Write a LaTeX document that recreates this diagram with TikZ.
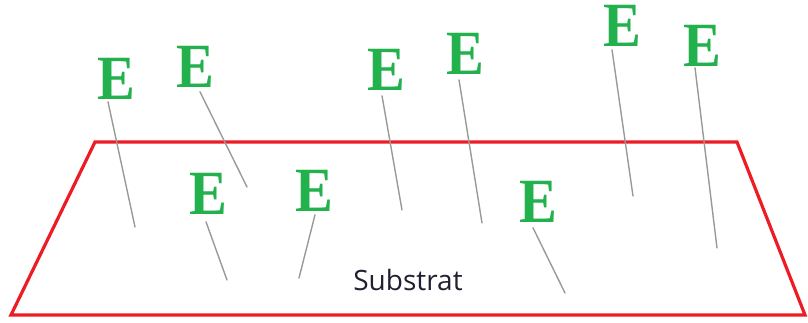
\documentclass[tikz,border=0pt]{standalone}
\usepackage{fontspec}
\setmainfont{Liberation Serif}
\newfontfamily\labelfont{Open Sans}
\definecolor{egreen}{HTML}{22B14C}
\definecolor{substred}{HTML}{ED1C24}
\definecolor{wiregray}{HTML}{999999}
\definecolor{labelink}{HTML}{202030}
\tikzset{
  elabel/.style={inner sep=0pt, text=egreen,
    font=\fontsize{63}{63}\selectfont\bfseries},
  wire/.style={draw=wiregray, line width=1.4pt, line cap=round},
  substrate/.style={draw=substred, line width=3.2pt, line join=miter},
}
\newcommand{\Eglyph}{\scalebox{0.9}[1]{E}}
\begin{document}
\begin{tikzpicture}[x=1pt, y=-1pt]
  \useasboundingbox (0,0) rectangle (808,323);
  % substrate outline
  \draw[substrate] (95,142) -- (737,142) -- (805,315) -- (11,315) -- cycle;
  \node[font=\labelfont\fontsize{28}{28}\selectfont, text=labelink, anchor=base] (sub) at (408,290) {Substrat};

  % the letters
  \node[elabel] (e1) at (116,79)  {\Eglyph};
  \node[elabel] (e2) at (195,67)  {\Eglyph};
  \node[elabel] (e3) at (386,70)  {\Eglyph};
  \node[elabel] (e4) at (465,54)  {\Eglyph};
  \node[elabel] (e5) at (622,26)  {\Eglyph};
  \node[elabel] (e6) at (702,46)  {\Eglyph};
  \node[elabel] (e7) at (208,194) {\Eglyph};
  \node[elabel] (e8) at (314,191) {\Eglyph};
  \node[elabel] (e9) at (538,202) {\Eglyph};

  % tips of the trajectories
  \coordinate (t1) at (135,227);
  \coordinate (t2) at (247,187);
  \coordinate (t3) at (402,210);
  \coordinate (t4) at (482,223);
  \coordinate (t5) at (633,196);
  \coordinate (t6) at (717,248);
  \coordinate (t7) at (227,280);
  \coordinate (t8) at (299,278);
  \coordinate (t9) at (565,293);

  \draw[wire] ([shift={(-8pt,-2pt)}]e1.south) -- (t1);
  \draw[wire] ([shift={(5pt,-4pt)}]e2.south) -- (t2);
  \draw[wire] ([shift={(-4pt,-5pt)}]e3.south) -- (t3);
  \draw[wire] ([shift={(-6pt,-5pt)}]e4.south) -- (t4);
  \draw[wire] ([shift={(-10pt,-3pt)}]e5.south) -- (t5);
  \draw[wire] ([shift={(-7pt,-1pt)}]e6.south) -- (t6);
  \draw[wire] ([shift={(-2pt,-7pt)}]e7.south) -- (t7);
  \draw[wire] ([shift={(1pt,-3pt)}]e8.south) -- (t8);
  \draw[wire] ([shift={(-5pt,-5pt)}]e9.south) -- (t9);
\end{tikzpicture}
\end{document}
